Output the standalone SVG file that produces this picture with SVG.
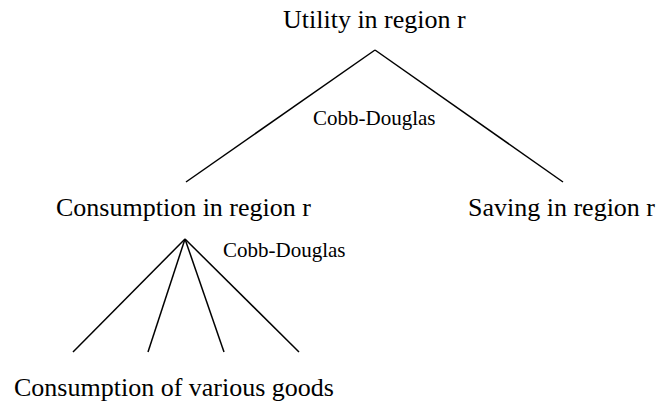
<svg xmlns="http://www.w3.org/2000/svg" width="662" height="410" viewBox="0 0 662 410">
<style>
.big{font-family:"Liberation Serif","Times New Roman",serif;font-size:26px;fill:#000}
.small{font-family:"Liberation Serif","Times New Roman",serif;font-size:21px;fill:#000}
.edge{stroke:#000;stroke-width:1.5;fill:none}
</style>
<rect width="662" height="410" fill="#fff"/>
<g id="connectors">
<line class="edge" x1="375" y1="50" x2="186" y2="182"/>
<line class="edge" x1="375" y1="50" x2="563" y2="182"/>
<line class="edge" x1="185" y1="239" x2="73" y2="352"/>
<line class="edge" x1="185" y1="239" x2="148" y2="352"/>
<line class="edge" x1="185" y1="239" x2="224" y2="352"/>
<line class="edge" x1="185" y1="239" x2="299" y2="352"/>
<text class="small" x="313" y="125">Cobb-Douglas</text>
<text class="small" x="223" y="257">Cobb-Douglas</text>
</g>
<g id="utility"><text class="big" x="283" y="28">Utility in region r</text></g>
<g id="consumption"><text class="big" x="56" y="216">Consumption in region r</text></g>
<g id="saving"><text class="big" x="468" y="216">Saving in region r</text></g>
<g id="goods"><text class="big" x="14" y="396">Consumption of various goods</text></g>
</svg>
